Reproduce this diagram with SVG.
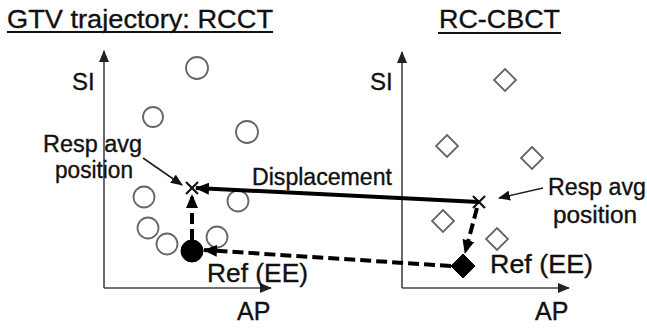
<svg xmlns="http://www.w3.org/2000/svg" width="647" height="328" viewBox="0 0 647 328">
  <style>
    text { font-family: "Liberation Sans", Arial, sans-serif; fill: #111; stroke: #111; stroke-width: 0.35; }
    .title { font-size: 26px; }
    .lbl { font-size: 23px; }
    .si { font-size: 24px; }
    .big { font-size: 25px; }
    .axis { stroke: #444; stroke-width: 1.6; fill: none; }
    .pt { fill: #fff; stroke: #666; stroke-width: 1.8; }
    .ref { fill: #000; stroke: #000; }
    .cross { stroke: #111; stroke-width: 2.2; }
    .thin { stroke: #222; stroke-width: 1.6; fill: none; }
    .thick { stroke: #000; stroke-width: 4; fill: none; }
    .dash { stroke: #000; stroke-width: 4; fill: none; stroke-dasharray: 11 5; }
    .ul { stroke: #111; stroke-width: 2; }
  </style>
  <defs>
    <marker id="axHead" markerUnits="userSpaceOnUse" markerWidth="12" markerHeight="10" refX="11" refY="5" orient="auto">
      <path d="M0,0 L12,5 L0,10 Z" fill="#222"/>
    </marker>
    <marker id="thinHead" markerUnits="userSpaceOnUse" markerWidth="12" markerHeight="10" refX="11" refY="5" orient="auto">
      <path d="M0,0 L12,5 L0,10 Z" fill="#111"/>
    </marker>
    <marker id="boldHead" markerUnits="userSpaceOnUse" markerWidth="14" markerHeight="12" refX="13" refY="6" orient="auto">
      <path d="M0,0 L14,6 L0,12 Z" fill="#000"/>
    </marker>
  </defs>

  <!-- panel titles -->
  <g id="title-rcct">
    <text class="title" x="7" y="28" textLength="266" lengthAdjust="spacingAndGlyphs">GTV trajectory: RCCT</text>
    <line class="ul" x1="7" y1="32" x2="273" y2="32"/>
  </g>
  <g id="title-cbct">
    <text class="title" x="439" y="28" textLength="121" lengthAdjust="spacingAndGlyphs">RC-CBCT</text>
    <line class="ul" x1="438" y1="33" x2="561" y2="33"/>
  </g>

  <!-- axes -->
  <g id="axes-left">
    <line class="axis" x1="104" y1="288" x2="104" y2="51" marker-end="url(#axHead)"/>
    <line class="axis" x1="104" y1="288" x2="271" y2="288" marker-end="url(#axHead)"/>
    <text class="si" x="72" y="90">SI</text>
    <text class="big" x="237" y="320">AP</text>
  </g>
  <g id="axes-right">
    <line class="axis" x1="402" y1="288" x2="402" y2="52" marker-end="url(#axHead)"/>
    <line class="axis" x1="402" y1="288" x2="569" y2="288" marker-end="url(#axHead)"/>
    <text class="si" x="370" y="90">SI</text>
    <text class="big" x="535" y="320">AP</text>
  </g>

  <!-- RCCT trajectory samples -->
  <g id="rcct-points">
    <circle class="pt" cx="197" cy="68" r="11"/>
    <circle class="pt" cx="153" cy="117" r="10"/>
    <circle class="pt" cx="247" cy="132" r="11"/>
    <circle class="pt" cx="144" cy="197" r="10.5"/>
    <circle class="pt" cx="238" cy="201" r="10.5"/>
    <circle class="pt" cx="148" cy="228" r="10.5"/>
    <circle class="pt" cx="167" cy="244" r="10.5"/>
    <circle class="pt" cx="217" cy="237" r="10.5"/>
  </g>
  <g id="rcct-ref">
    <circle class="ref" cx="192" cy="251" r="11"/>
    <text class="big" x="207" y="282" textLength="101" lengthAdjust="spacingAndGlyphs">Ref (EE)</text>
  </g>
  <g id="rcct-avg">
    <line class="cross" x1="186" y1="182" x2="198" y2="194"/>
    <line class="cross" x1="186" y1="194" x2="198" y2="182"/>
    <text class="lbl" x="43" y="152" textLength="99" lengthAdjust="spacingAndGlyphs">Resp avg</text>
    <text class="lbl" x="55" y="178" textLength="78" lengthAdjust="spacingAndGlyphs">position</text>
  </g>

  <!-- RC-CBCT trajectory samples -->
  <g id="cbct-points">
    <path class="pt" d="M505,69 L516,80 L505,91 L494,80 Z"/>
    <path class="pt" d="M447,135 L458,146 L447,157 L436,146 Z"/>
    <path class="pt" d="M532,147 L543,158 L532,169 L521,158 Z"/>
    <path class="pt" d="M443,210 L454,221 L443,232 L432,221 Z"/>
    <path class="pt" d="M497,228 L508,239 L497,250 L486,239 Z"/>
  </g>
  <g id="cbct-ref">
    <path class="ref" d="M463,254 L475,266 L463,278 L451,266 Z"/>
    <text class="big" x="490" y="273" textLength="103" lengthAdjust="spacingAndGlyphs">Ref (EE)</text>
  </g>
  <g id="cbct-avg">
    <line class="cross" x1="473" y1="196" x2="485" y2="208"/>
    <line class="cross" x1="473" y1="208" x2="485" y2="196"/>
    <text class="lbl" x="548" y="195" textLength="98" lengthAdjust="spacingAndGlyphs">Resp avg</text>
    <text class="lbl" x="553" y="223" textLength="84" lengthAdjust="spacingAndGlyphs">position</text>
  </g>

  <!-- connectors -->
  <g id="connectors">
    <line class="thin" x1="143" y1="158" x2="182" y2="185" marker-end="url(#thinHead)"/>
    <line class="thin" x1="543" y1="188" x2="499" y2="198" marker-end="url(#thinHead)"/>
    <line class="thick" x1="479" y1="202" x2="196" y2="188" marker-end="url(#boldHead)"/>
    <text class="lbl" x="252" y="185" textLength="140" lengthAdjust="spacingAndGlyphs">Displacement</text>
    <line class="dash" x1="192" y1="240" x2="192" y2="195" marker-end="url(#boldHead)"/>
    <line class="dash" x1="451" y1="266" x2="204" y2="250" marker-end="url(#boldHead)"/>
    <line class="dash" x1="477" y1="208" x2="465" y2="253" marker-end="url(#boldHead)"/>
  </g>
</svg>
